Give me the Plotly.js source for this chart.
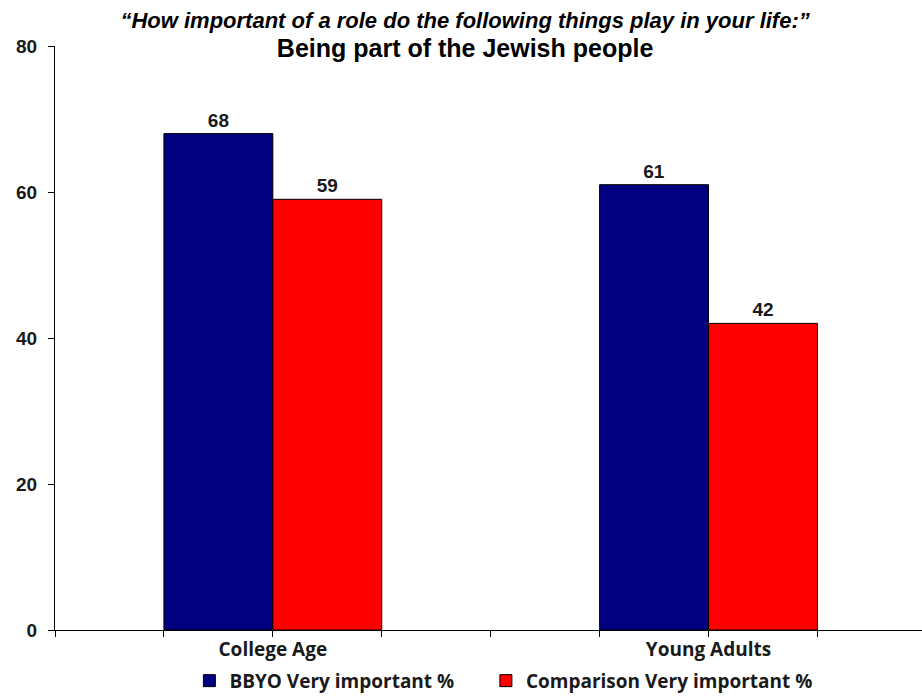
<!DOCTYPE html>
<html>
<head>
<meta charset="utf-8">
<script src="https://cdn.plot.ly/plotly-3.0.1.min.js"></script>
<style>html,body{margin:0;padding:0;background:#fff;}#chart{width:922px;height:700px;}</style>
</head>
<body>
<div id="chart"></div>
<script>
const categories = ["College Age", "Young Adults"];
const seriesNames = ["BBYO Very important %", "Comparison Very important %"];
const bbyo = [68, 61];
const comparison = [59, 42];
const yTicks = [0, 20, 40, 60, 80];

const positions = categories.map((c, i) => i);
const labelFont = {family: "Liberation Sans, Arial, sans-serif", size: 19, color: "#1a1a1a", weight: "bold"};
const legendFont = {family: "Open Sans, sans-serif", size: 19, color: "#1a1a1a", weight: "bold"};

const traces = [
  {type: "bar", name: seriesNames[0], x: positions, y: bbyo, text: bbyo.map(String),
   textposition: "outside", textfont: labelFont, cliponaxis: false, legend: "legend",
   marker: {color: "#000080", line: {color: "#000000", width: 1}}},
  {type: "bar", name: seriesNames[1], x: positions, y: comparison, text: comparison.map(String),
   textposition: "outside", textfont: labelFont, cliponaxis: false, legend: "legend2",
   marker: {color: "#FF0000", line: {color: "#000000", width: 1}}}
];

const layout = {
  width: 922, height: 700,
  margin: {l: 55, r: 0, t: 46, b: 70},
  paper_bgcolor: "#fff", plot_bgcolor: "#fff",
  barmode: "group", bargap: 0.5, bargroupgap: 0,
  title: {
    text: "<i>“How important of a role do the following things play in your life:”</i><br><span style='font-size:25px'>Being part of the Jewish people</span>",
    font: {family: "Liberation Sans, Arial, sans-serif", size: 22, color: "#000", weight: "bold"},
    x: 0.473, xref: "paper", y: 0.96, yanchor: "top"
  },
  xaxis: {
    type: "linear", range: [-0.5, 1.49], tickvals: positions, ticktext: categories,
    showgrid: false, zeroline: false, showline: true, linecolor: "#000", linewidth: 1,
    ticks: "outside", ticklen: 6, tickcolor: "#000", ticklabelstandoff: -4,
    minor: {ticks: "outside", tick0: -0.5, dtick: 0.25, ticklen: 6, tickcolor: "#000", showgrid: false},
    tickfont: {family: "Open Sans, sans-serif", size: 19, color: "#1a1a1a", weight: "bold"},
    fixedrange: true
  },
  yaxis: {
    range: [0, 80], tickvals: yTicks, showgrid: false, zeroline: false,
    showline: true, linecolor: "#000", linewidth: 1,
    ticks: "outside", ticklen: 6, tickcolor: "#000", ticklabelstandoff: 7,
    tickfont: {family: "Liberation Sans, Arial, sans-serif", size: 19, color: "#1a1a1a", weight: "bold"},
    fixedrange: true
  },
  showlegend: true,
  legend: {
    orientation: "h", x: 0.155, xanchor: "left", y: -0.1195, yanchor: "bottom",
    font: legendFont, itemwidth: 30, bgcolor: "rgba(0,0,0,0)", borderwidth: 0
  },
  legend2: {
    orientation: "h", x: 0.497, xanchor: "left", y: -0.1195, yanchor: "bottom",
    font: legendFont, itemwidth: 30, bgcolor: "rgba(0,0,0,0)", borderwidth: 0
  }
};

Plotly.newPlot("chart", traces, layout, {displayModeBar: false, staticPlot: true});
</script>
</body>
</html>
